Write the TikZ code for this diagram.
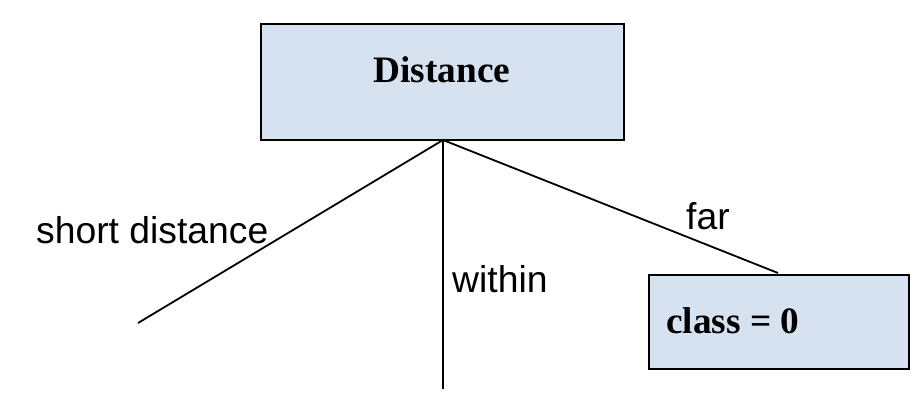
\documentclass[tikz,border=0pt]{standalone}
\usepackage{fontspec}
\setmainfont{Liberation Serif}
\newfontfamily\arialf{Liberation Sans}
\definecolor{boxfill}{RGB}{214,226,240}
\begin{document}
\begin{tikzpicture}[x=1pt,y=-1pt,
  box/.style={draw=black, line width=2pt, fill=boxfill, inner sep=0pt, anchor=north west},
  boxtext/.style={font=\fontsize{37.3}{40}\selectfont\bfseries, inner sep=0pt},
  edgetext/.style={font=\arialf\fontsize{37.3}{40}\selectfont, inner sep=0pt, anchor=base west},
  branch/.style={draw=black, line width=1.8pt}]
\useasboundingbox (0,0) rectangle (922,412);
\node[box, minimum width=363pt, minimum height=116pt] (dist) at (260,23) {};
\node[boxtext, anchor=base] (disttext) at (442,83) {Distance};
\node[box, minimum width=260pt, minimum height=94pt] (cls) at (648,274) {};
\node[boxtext, anchor=base west] (clstext) at (666,333) {class = 0};
\coordinate (apex) at (443,140);
\coordinate (leftend) at (138,323);
\coordinate (midend) at (443,389);
\coordinate (clstop) at (778,273);
\draw[branch] (apex) -- (leftend);
\draw[branch] (apex) -- (midend);
\draw[branch] (apex) -- (clstop);
\node[edgetext] (shortlbl) at (36,243) {short distance};
\node[edgetext] (withinlbl) at (452,292) {within};
\node[edgetext] (farlbl) at (686,229) {far};
\end{tikzpicture}
\end{document}
